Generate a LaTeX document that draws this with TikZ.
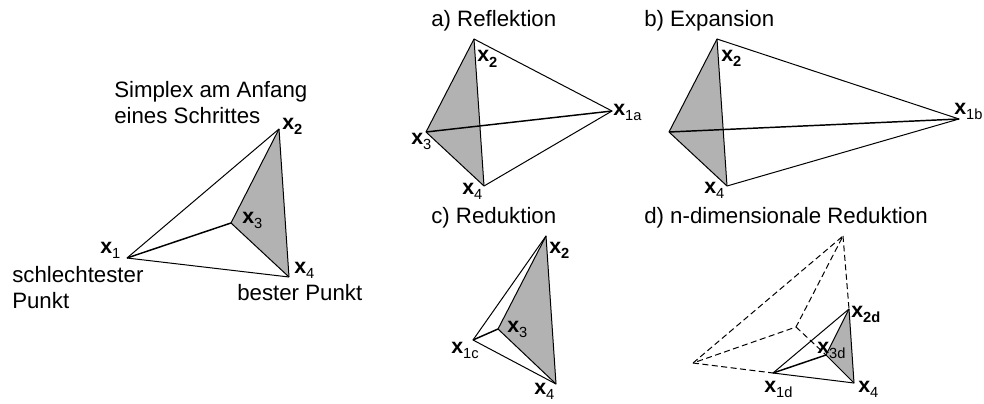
\documentclass[tikz,border=0pt]{standalone}
\usepackage{fontspec}
\setmainfont{Liberation Sans}
\usepackage{xcolor}
\usetikzlibrary{positioning, calc}
\definecolor{simplexgray}{RGB}{178, 178, 178}
\newcommand{\subtxt}[1]{\raisebox{-4.2pt}{\fontsize{11}{11}\selectfont #1}}
\newcommand{\vx}[1]{{\bfseries x}\subtxt{#1}}
\newcommand{\vxb}[1]{{\bfseries x\subtxt{#1}}}
\tikzset{
    edge/.style={draw=black, line width=0.75pt, line join=round},
    thick edge/.style={edge, line width=1.1pt},
    dash edge/.style={edge, dashed, dash pattern=on 4.5pt off 2.6pt},
    face/.style={fill=simplexgray, draw=none},
    txt/.style={inner sep=0pt, anchor=base west, font=\fontsize{16.7}{20}\selectfont},
    ptlabel/.style={inner sep=0pt, anchor=base west, font=\fontsize{16}{18}\selectfont},
}
\begin{document}
\begin{tikzpicture}[x=0.75pt, y=-0.75pt]
    \useasboundingbox (0,0) rectangle (984,403);

    % Anfang
    \coordinate (x1) at (127,258);
    \coordinate (x2) at (279,129);
    \coordinate (x3) at (231,223);
    \coordinate (x4) at (289,277);
    \fill[face] (x2) -- (x3) -- (x4) -- cycle;
    \draw[edge] (x1) -- (x2);
    \draw[edge] (x2) -- (x4);
    \draw[edge] (x1) -- (x4);
    \draw[thick edge] (x1) -- (x3);
    \draw[edge] (x2) -- (x3);
    \draw[edge] (x3) -- (x4);
    \node[txt] (t1) at (114,97) {Simplex am Anfang};
    \node[txt] (t2) at (114,123) {eines Schrittes};
    \node[txt] (t3) at (12,282) {schlechtester};
    \node[txt] (t4) at (12,308) {Punkt};
    \node[txt] (t5) at (237,300) {bester Punkt};
    \node[ptlabel] (l1) at (100,253) {\vx{1}};
    \node[ptlabel] (l2) at (282,129) {\vxb{2}};
    \node[ptlabel] (l3) at (242,223) {\vx{3}};
    \node[ptlabel] (l4) at (294,273) {\vx{4}};

    % a) Reflektion
    \coordinate (a2) at (474,39);
    \coordinate (a3) at (426,132);
    \coordinate (a4) at (484,186);
    \coordinate (a1) at (612,111);
    \fill[face] (a2) -- (a3) -- (a4) -- cycle;
    \draw[edge] (a2) -- (a3) -- (a4) -- (a1) -- cycle;
    \draw[edge] (a2) -- (a4);
    \draw[thick edge] (a3) -- (a1);
    \node[txt] (ta) at (431,27) {a) Reflektion};
    \node[ptlabel] (la1) at (613,115) {\vx{1a}};
    \node[ptlabel] (la2) at (477,62) {\vxb{2}};
    \node[ptlabel] (la3) at (411,144) {\vx{3}};
    \node[ptlabel] (la4) at (462,194) {\vx{4}};

    % b) Expansion
    \coordinate (b2) at (717,39);
    \coordinate (b3) at (669,132);
    \coordinate (b4) at (727,186);
    \coordinate (b1) at (959,119);
    \fill[face] (b2) -- (b3) -- (b4) -- cycle;
    \draw[edge] (b2) -- (b3) -- (b4) -- (b1) -- cycle;
    \draw[edge] (b2) -- (b4);
    \draw[thick edge] (b3) -- (b1);
    \node[txt] (tb) at (644,27) {b) Expansion};
    \node[ptlabel] (lb1) at (954,114) {\vx{1b}};
    \node[ptlabel] (lb2) at (721,61) {\vxb{2}};
    \node[ptlabel] (lb4) at (704,193) {\vx{4}};

    % c) Reduktion
    \coordinate (c1) at (473,340);
    \coordinate (c2) at (546,236);
    \coordinate (c3) at (498,329);
    \coordinate (c4) at (556,384);
    \fill[face] (c2) -- (c3) -- (c4) -- cycle;
    \draw[edge] (c1) -- (c2) -- (c4) -- cycle;
    \draw[thick edge] (c1) -- (c3);
    \draw[edge] (c2) -- (c3) -- (c4);
    \node[txt] (tc) at (431,223) {c) Reduktion};
    \node[ptlabel] (lc1) at (451,353) {\vx{1c}};
    \node[ptlabel] (lc2) at (549,253) {\vxb{2}};
    \node[ptlabel] (lc3) at (507,332) {\vx{3}};
    \node[ptlabel] (lc4) at (534,394) {\vx{4}};

    % d) n-dimensionale Reduktion
    \coordinate (d0) at (693,363);
    \coordinate (d5) at (843,236);
    \coordinate (d6) at (796,327);
    \coordinate (d1) at (773,373);
    \coordinate (d2) at (849,309);
    \coordinate (d3) at (826,355);
    \coordinate (d4) at (854,383);
    \fill[face] (d2) -- (d3) -- (d4) -- cycle;
    \draw[dash edge] (d0) -- (d5) -- (d6) -- cycle;
    \draw[dash edge] (d0) -- (d1);
    \draw[dash edge] (d5) -- (d2);
    \draw[dash edge] (d6) -- (d3);
    \draw[edge] (d1) -- (d2) -- (d4) -- cycle;
    \draw[thick edge] (d1) -- (d3);
    \draw[edge] (d2) -- (d3) -- (d4);
    \node[txt] (td) at (644,223) {d) n-dimensionale Reduktion};
    \node[ptlabel] (ld1) at (764,392) {\vx{1d}};
    \node[ptlabel] (ld2) at (851,317) {\vxb{2d}};
    \node[ptlabel] (ld3) at (817,353) {\vx{3d}};
    \node[ptlabel] (ld4) at (858,392) {\vx{4}};
\end{tikzpicture}
\end{document}
